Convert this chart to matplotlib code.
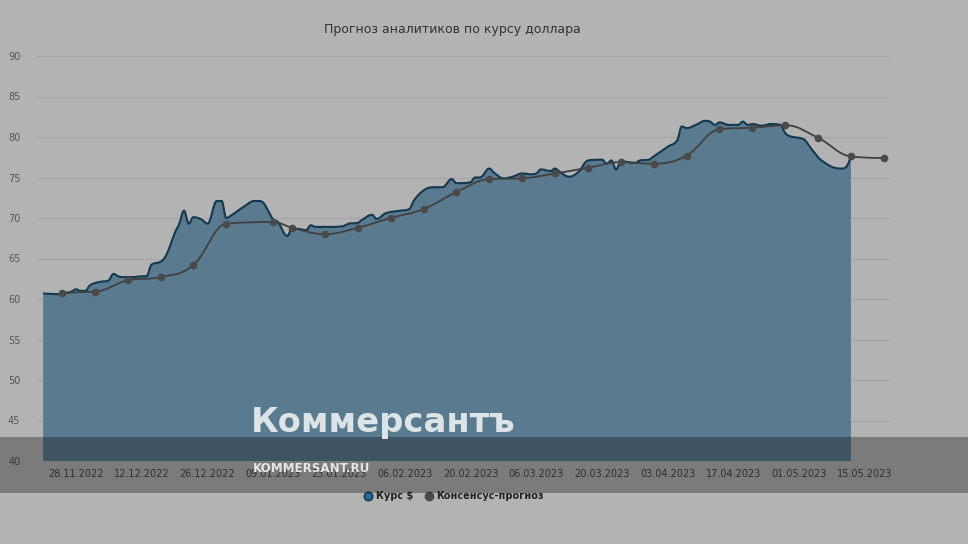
import matplotlib
matplotlib.use("Agg")
import matplotlib.pyplot as plt
import matplotlib.dates as mdates
from matplotlib.path import Path
from matplotlib.patches import PathPatch, Rectangle
from matplotlib.lines import Line2D
import numpy as np
import pandas as pd

# --- data ---
rate_dates = [
    "2022-11-21", "2022-11-24", "2022-11-27", "2022-11-28", "2022-11-29", "2022-11-30",
    "2022-12-01", "2022-12-03", "2022-12-05", "2022-12-06", "2022-12-07", "2022-12-08",
    "2022-12-10", "2022-12-12", "2022-12-13", "2022-12-14", "2022-12-16", "2022-12-17",
    "2022-12-18", "2022-12-19", "2022-12-20", "2022-12-21", "2022-12-22", "2022-12-23",
    "2022-12-24", "2022-12-25", "2022-12-26", "2022-12-28", "2022-12-29", "2022-12-30",
    "2022-12-31", "2023-01-03", "2023-01-05", "2023-01-06", "2023-01-07", "2023-01-08",
    "2023-01-09", "2023-01-10", "2023-01-12", "2023-01-13", "2023-01-15", "2023-01-16",
    "2023-01-17", "2023-01-18", "2023-01-21", "2023-01-24", "2023-01-25", "2023-01-27",
    "2023-01-28", "2023-01-30", "2023-01-31", "2023-02-02", "2023-02-05", "2023-02-07",
    "2023-02-08", "2023-02-10", "2023-02-12", "2023-02-14", "2023-02-16", "2023-02-17",
    "2023-02-20", "2023-02-21", "2023-02-22", "2023-02-24", "2023-02-25", "2023-02-27",
    "2023-03-01", "2023-03-03", "2023-03-05", "2023-03-06", "2023-03-07", "2023-03-09",
    "2023-03-10", "2023-03-11", "2023-03-13", "2023-03-15", "2023-03-17", "2023-03-20",
    "2023-03-21", "2023-03-22", "2023-03-23", "2023-03-24", "2023-03-27", "2023-03-28",
    "2023-03-30", "2023-03-31", "2023-04-03", "2023-04-05", "2023-04-06", "2023-04-07",
    "2023-04-09", "2023-04-11", "2023-04-12", "2023-04-13", "2023-04-14", "2023-04-16",
    "2023-04-18", "2023-04-19", "2023-04-20", "2023-04-21", "2023-04-23", "2023-04-25",
    "2023-04-27", "2023-04-28", "2023-04-29", "2023-05-02", "2023-05-03", "2023-05-05",
    "2023-05-06", "2023-05-08", "2023-05-10", "2023-05-11", "2023-05-12",
]
rate_values = [
    60.7, 60.6, 60.9, 61.2, 61.0, 61.0,
    61.7, 62.1, 62.3, 63.1, 62.8, 62.7,
    62.7, 62.8, 62.8, 64.2, 64.6, 65.2,
    66.5, 68.1, 69.3, 70.9, 69.3, 70.1,
    70.0, 69.7, 69.3, 72.1, 72.1, 70.0,
    70.3, 71.5, 72.1, 72.1, 71.8, 70.8,
    69.8, 69.5, 67.8, 68.7, 68.6, 68.5,
    69.1, 68.9, 68.9, 69.0, 69.3, 69.4,
    69.8, 70.4, 69.9, 70.6, 70.9, 71.1,
    72.2, 73.4, 73.8, 73.8, 74.8, 74.3,
    74.4, 75.0, 75.0, 76.1, 75.6, 74.9,
    75.1, 75.5, 75.4, 75.5, 76.0, 75.8,
    76.1, 75.7, 75.1, 75.7, 77.1, 77.2,
    76.7, 77.1, 76.0, 77.0, 76.8, 77.1,
    77.2, 77.6, 78.8, 79.6, 81.3, 81.1,
    81.5, 82.0, 81.9, 81.5, 81.8, 81.5,
    81.5, 81.9, 81.5, 81.6, 81.4, 81.6,
    81.5, 80.5, 80.1, 79.7, 79.0, 77.5,
    77.0, 76.3, 76.1, 76.3, 77.6,
]

consensus_dates = [
    "2022-11-25", "2022-12-02", "2022-12-09", "2022-12-16", "2022-12-23", "2022-12-30",
    "2023-01-09", "2023-01-13", "2023-01-20", "2023-01-27", "2023-02-03", "2023-02-10",
    "2023-02-17", "2023-02-24", "2023-03-03", "2023-03-10", "2023-03-17", "2023-03-24",
    "2023-03-31", "2023-04-07", "2023-04-14", "2023-04-21", "2023-04-28", "2023-05-05",
    "2023-05-12", "2023-05-19",
]
consensus_values = [
    60.8, 60.9, 62.3, 62.7, 64.2, 69.3,
    69.5, 68.8, 68.0, 68.8, 70.0, 71.1,
    73.2, 74.8, 74.9, 75.5, 76.2, 76.9,
    76.7, 77.7, 80.95, 81.15, 81.45, 79.9,
    77.6, 77.4,
]

tick_dates = pd.date_range("2022-11-28", "2023-05-15", freq="14D")

title = "Прогноз аналитиков по курсу доллара"
series_names = ["Курс $", "Консенсус-прогноз"]


def spline_path(x, y, smoothing=1.5):
    # highcharts-like spline: bezier control points around every point
    n = len(x)
    lc = [(x[i], y[i]) for i in range(n)]
    rc = [(x[i], y[i]) for i in range(n)]
    denom = smoothing + 1
    for i in range(1, n - 1):
        lx = (smoothing * x[i] + x[i - 1]) / denom
        ly = (smoothing * y[i] + y[i - 1]) / denom
        rx = (smoothing * x[i] + x[i + 1]) / denom
        ry = (smoothing * y[i] + y[i + 1]) / denom
        if rx != lx:
            corr = (ry - ly) * (rx - x[i]) / (rx - lx) + y[i] - ry
            ly += corr
            ry += corr
        if ly > y[i - 1] and ly > y[i]:
            ly = max(y[i - 1], y[i]); ry = 2 * y[i] - ly
        elif ly < y[i - 1] and ly < y[i]:
            ly = min(y[i - 1], y[i]); ry = 2 * y[i] - ly
        if ry > y[i + 1] and ry > y[i]:
            ry = max(y[i + 1], y[i]); ly = 2 * y[i] - ry
        elif ry < y[i + 1] and ry < y[i]:
            ry = min(y[i + 1], y[i]); ly = 2 * y[i] - ry
        lc[i] = (lx, ly)
        rc[i] = (rx, ry)
    verts = [(x[0], y[0])]
    codes = [Path.MOVETO]
    for i in range(1, n):
        verts += [rc[i - 1], lc[i], (x[i], y[i])]
        codes += [Path.CURVE4] * 3
    return verts, codes


rx = mdates.date2num(pd.to_datetime(rate_dates))
ry = np.array(rate_values)
cx = mdates.date2num(pd.to_datetime(consensus_dates))
cy = np.array(consensus_values)

bg = "#b3b3b3"
fig = plt.figure(figsize=(9.68, 5.44), dpi=100, facecolor=bg)
ax = fig.add_axes([37 / 968, 1 - 461 / 544, (889 - 37) / 968, (461 - 56) / 544])
ax.set_facecolor(bg)

ymin, ymax = 40, 90
x0 = mdates.date2num(pd.Timestamp("2022-11-28"))
ax.set_xlim(x0 - 8.3, x0 + 173.1)
ax.set_ylim(ymin, ymax)

# area of the rate
v, c = spline_path(rx, ry)
area_v = [(rx[0], ymin)] + v + [(rx[-1], ymin), (rx[0], ymin)]
area_c = [Path.MOVETO, Path.LINETO] + c[1:] + [Path.LINETO, Path.CLOSEPOLY]
ax.add_patch(PathPatch(Path(area_v, area_c), facecolor="#5a7b8f", edgecolor="none", zorder=2))
ax.add_patch(PathPatch(Path(v, c), facecolor="none", edgecolor="#14384f", lw=1.5, zorder=3))

# consensus line
v2, c2 = spline_path(cx, cy)
ax.add_patch(PathPatch(Path(v2, c2), facecolor="none", edgecolor="#404040", lw=1.3, zorder=4))
ax.plot(cx, cy, "o", ms=4.5, color="#4a4a4a", zorder=5)

ax.set_yticks(range(40, 91, 5))
ax.set_xticks(mdates.date2num(tick_dates))
ax.set_xticklabels([d.strftime("%d.%m.%Y") for d in tick_dates])
ax.grid(axis="y", color="#a6a6a6", lw=1)
ax.set_axisbelow(True)
for s in ax.spines.values():
    s.set_visible(False)
ax.tick_params(axis="y", length=0, pad=12, labelsize=7, labelcolor="#555555")
ax.tick_params(axis="x", length=0, pad=6, labelsize=7, labelcolor="#444444")

fig.text(452 / 968, 1 - 30 / 544, title, ha="center", va="center", fontsize=9, color="#333333")

# legend
handles = [
    Line2D([], [], ls="none", marker="o", ms=6, mfc="#2a6b94", mec="#123a55", mew=1.2),
    Line2D([], [], ls="none", marker="o", ms=6, mfc="#4a4a4a", mec="#4a4a4a"),
]
fig.legend(handles, series_names, loc="center", bbox_to_anchor=(454 / 968, 1 - 496 / 544),
           ncol=2, frameon=False, handlelength=0.8, handletextpad=0.4, columnspacing=1.2,
           prop={"size": 7, "weight": "bold"}, labelcolor="#222222")

# watermark band and logo
fig.patches.append(Rectangle((0, 1 - 493 / 544), 1, 56 / 544, transform=fig.transFigure,
                             facecolor="black", alpha=0.31, edgecolor="none", zorder=10))
fig.text(251 / 968, 1 - 432 / 544, "Коммерсантъ", ha="left", va="baseline",
         fontsize=24.3, weight="heavy", color="#dde4e8", zorder=11)
fig.text(253 / 968, 1 - 472 / 544, "KOMMERSANT.RU", ha="left", va="baseline",
         fontsize=9.5, weight="bold", stretch="condensed", color="#e6e6e6", zorder=11)

fig.savefig("out.png", dpi=100, facecolor=bg)
